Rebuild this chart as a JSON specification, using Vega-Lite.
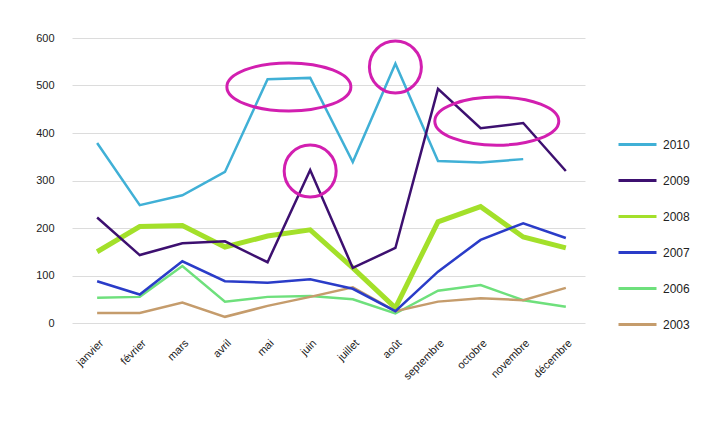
{
  "$schema": "https://vega.github.io/schema/vega-lite/v6.json",
  "width": 513,
  "height": 285,
  "autosize": {"type": "none"},
  "padding": {"left": 72, "top": 38, "right": 127, "bottom": 117},
  "background": "white",
  "config": {
    "view": {"stroke": null},
    "font": "Liberation Sans",
    "axis": {"labelColor": "#222222", "labelFontSize": 11, "ticks": false, "domain": false, "title": null}
  },
  "datasets": {
    "ventes": [
      {"annee": "2008", "m": 1, "v": 150}, {"annee": "2008", "m": 2, "v": 203}, {"annee": "2008", "m": 3, "v": 205},
      {"annee": "2008", "m": 4, "v": 160}, {"annee": "2008", "m": 5, "v": 183}, {"annee": "2008", "m": 6, "v": 196},
      {"annee": "2008", "m": 7, "v": 116}, {"annee": "2008", "m": 8, "v": 32}, {"annee": "2008", "m": 9, "v": 213},
      {"annee": "2008", "m": 10, "v": 245}, {"annee": "2008", "m": 11, "v": 181}, {"annee": "2008", "m": 12, "v": 158},
      {"annee": "2006", "m": 1, "v": 53}, {"annee": "2006", "m": 2, "v": 55}, {"annee": "2006", "m": 3, "v": 120},
      {"annee": "2006", "m": 4, "v": 45}, {"annee": "2006", "m": 5, "v": 55}, {"annee": "2006", "m": 6, "v": 57},
      {"annee": "2006", "m": 7, "v": 50}, {"annee": "2006", "m": 8, "v": 20}, {"annee": "2006", "m": 9, "v": 68},
      {"annee": "2006", "m": 10, "v": 80}, {"annee": "2006", "m": 11, "v": 48}, {"annee": "2006", "m": 12, "v": 34},
      {"annee": "2003", "m": 1, "v": 21}, {"annee": "2003", "m": 2, "v": 21}, {"annee": "2003", "m": 3, "v": 43},
      {"annee": "2003", "m": 4, "v": 13}, {"annee": "2003", "m": 5, "v": 36}, {"annee": "2003", "m": 6, "v": 55},
      {"annee": "2003", "m": 7, "v": 75}, {"annee": "2003", "m": 8, "v": 25}, {"annee": "2003", "m": 9, "v": 45},
      {"annee": "2003", "m": 10, "v": 52}, {"annee": "2003", "m": 11, "v": 48}, {"annee": "2003", "m": 12, "v": 74},
      {"annee": "2007", "m": 1, "v": 88}, {"annee": "2007", "m": 2, "v": 60}, {"annee": "2007", "m": 3, "v": 130},
      {"annee": "2007", "m": 4, "v": 88}, {"annee": "2007", "m": 5, "v": 85}, {"annee": "2007", "m": 6, "v": 92},
      {"annee": "2007", "m": 7, "v": 72}, {"annee": "2007", "m": 8, "v": 25}, {"annee": "2007", "m": 9, "v": 108},
      {"annee": "2007", "m": 10, "v": 175}, {"annee": "2007", "m": 11, "v": 210}, {"annee": "2007", "m": 12, "v": 179},
      {"annee": "2010", "m": 1, "v": 379}, {"annee": "2010", "m": 2, "v": 248}, {"annee": "2010", "m": 3, "v": 269},
      {"annee": "2010", "m": 4, "v": 318}, {"annee": "2010", "m": 5, "v": 513}, {"annee": "2010", "m": 6, "v": 516},
      {"annee": "2010", "m": 7, "v": 339}, {"annee": "2010", "m": 8, "v": 546}, {"annee": "2010", "m": 9, "v": 341},
      {"annee": "2010", "m": 10, "v": 338}, {"annee": "2010", "m": 11, "v": 345},
      {"annee": "2009", "m": 1, "v": 222}, {"annee": "2009", "m": 2, "v": 143}, {"annee": "2009", "m": 3, "v": 168},
      {"annee": "2009", "m": 4, "v": 172}, {"annee": "2009", "m": 5, "v": 128}, {"annee": "2009", "m": 6, "v": 322},
      {"annee": "2009", "m": 7, "v": 116}, {"annee": "2009", "m": 8, "v": 158}, {"annee": "2009", "m": 9, "v": 493},
      {"annee": "2009", "m": 10, "v": 410}, {"annee": "2009", "m": 11, "v": 421}, {"annee": "2009", "m": 12, "v": 320}
    ],
    "ellipses": [
      {"m": 5.5, "v": 497},
      {"m": 10.38, "v": 425}
    ],
    "cercles": [
      {"m": 6, "v": 320},
      {"m": 8, "v": 539}
    ]
  },
  "encoding": {
    "x": {
      "field": "m", "type": "quantitative",
      "scale": {"domain": [0.41, 12.45], "nice": false, "zero": false},
      "axis": {
        "values": [1, 2, 3, 4, 5, 6, 7, 8, 9, 10, 11, 12],
        "labelExpr": "['janvier','février','mars','avril','mai','juin','juillet','août','septembre','octobre','novembre','décembre'][datum.value-1]",
        "labelAngle": -45, "labelOverlap": false, "labelFlush": false, "grid": false, "labelPadding": 14
      }
    },
    "y": {
      "field": "v", "type": "quantitative",
      "scale": {"domain": [0, 600], "nice": false},
      "axis": {"values": [0, 100, 200, 300, 400, 500, 600], "grid": true, "gridColor": "#dcdcdc", "labelPadding": 18}
    }
  },
  "layer": [
    {
      "data": {"name": "ventes"},
      "transform": [{"filter": "datum.annee === '2008'"}],
      "mark": {"type": "line", "strokeWidth": 5},
      "encoding": {
        "color": {
          "field": "annee", "type": "nominal",
          "scale": {
            "domain": ["2010", "2009", "2008", "2007", "2006", "2003"],
            "range": ["#40b0d6", "#3d1070", "#a3e02a", "#2a3cc8", "#6ee07c", "#c59c6c"]
          },
          "legend": {
            "orient": "none", "legendX": 545, "legendY": 86, "title": null, "padding": 0,
            "symbolType": "stroke", "symbolSize": 1444, "symbolStrokeWidth": 3,
            "labelFontSize": 12, "labelColor": "#222222", "labelOffset": 5, "rowPadding": 9
          }
        }
      }
    },
    {
      "data": {"name": "ventes"},
      "transform": [{"filter": "datum.annee !== '2008'"}],
      "mark": {"type": "line", "strokeWidth": 2.5},
      "encoding": {
        "color": {"field": "annee", "type": "nominal"}
      }
    },
    {
      "data": {"name": "ellipses"},
      "mark": {
        "type": "point", "filled": false, "stroke": "#d21fb0", "strokeWidth": 3, "opacity": 1,
        "shape": "M -1.6 0 A 1.6 0.62 0 1 0 1.6 0 A 1.6 0.62 0 1 0 -1.6 0 Z", "size": 6006
      }
    },
    {
      "data": {"name": "cercles"},
      "mark": {"type": "point", "filled": false, "stroke": "#d21fb0", "strokeWidth": 3, "opacity": 1, "shape": "circle", "size": 2704}
    }
  ]
}
